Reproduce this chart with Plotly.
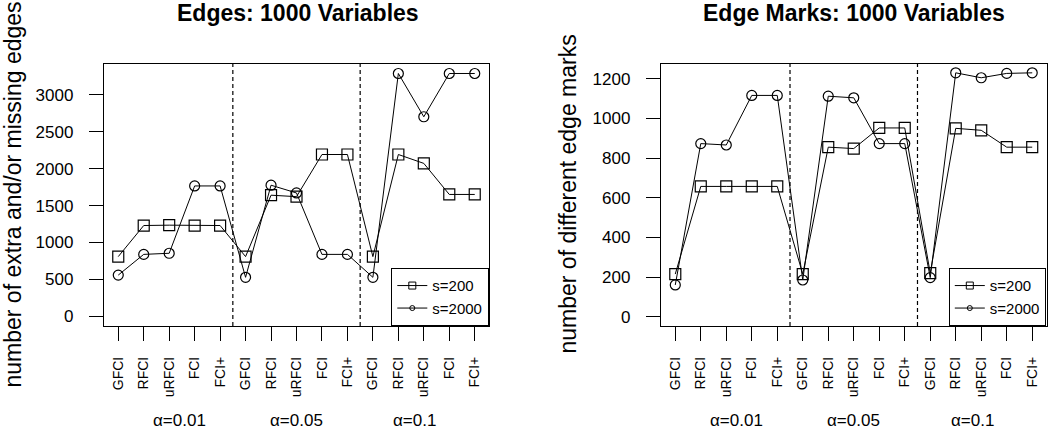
import plotly.graph_objects as go

# methods repeated within each alpha group
methods = ["GFCI", "RFCI", "uRFCI", "FCI", "FCI+"]
alphas = ["α=0.01", "α=0.05", "α=0.1"]

# Edges: 1000 Variables  (number of extra and/or missing edges)
edges_s200 = [810, 1230, 1235, 1230, 1230,
              810, 1640, 1620, 2190, 2190,
              810, 2190, 2070, 1650, 1650]
edges_s2000 = [560, 840, 855, 1765, 1765,
               530, 1775, 1670, 840, 840,
               530, 3285, 2700, 3285, 3285]

# Edge Marks: 1000 Variables  (number of different edge marks)
marks_s200 = [215, 657, 657, 657, 657,
              215, 855, 848, 952, 952,
              220, 950, 940, 855, 855]
marks_s2000 = [160, 873, 866, 1116, 1116,
               185, 1112, 1104, 873, 873,
               197, 1230, 1205, 1227, 1230]

edges_ticks = [0, 500, 1000, 1500, 2000, 2500, 3000]
marks_ticks = [0, 200, 400, 600, 800, 1000, 1200]

ticktext = methods * len(alphas)
x = list(range(1, len(ticktext) + 1))
alpha_pos = [3.4, 8.0, 12.65]

FONT = "Liberation Sans, Arial, sans-serif"
W, H = 1050, 432


def px_x(p):
    return p / W


def px_y(p):
    return 1 - p / H


fig = go.Figure()

for xa, ya, s200, s2000, lg in [("x", "y", edges_s200, edges_s2000, "legend"),
                                ("x2", "y2", marks_s200, marks_s2000, "legend2")]:
    fig.add_trace(go.Scatter(
        x=x, y=s200, xaxis=xa, yaxis=ya, mode="lines+markers",
        line=dict(color="black", width=1),
        marker=dict(symbol="square-open", size=11, color="black", line=dict(width=1.2)),
        showlegend=False))
    fig.add_trace(go.Scatter(
        x=x, y=s2000, xaxis=xa, yaxis=ya, mode="lines+markers",
        line=dict(color="black", width=1),
        marker=dict(symbol="circle-open", size=10, color="black", line=dict(width=1.2)),
        showlegend=False))
    # legend entries with the small symbols used in the key
    fig.add_trace(go.Scatter(
        x=[None], y=[None], xaxis=xa, yaxis=ya, mode="lines+markers", name="s=200",
        line=dict(color="black", width=1),
        marker=dict(symbol="square-open", size=7, color="black", line=dict(width=1)),
        legend=lg))
    fig.add_trace(go.Scatter(
        x=[None], y=[None], xaxis=xa, yaxis=ya, mode="lines+markers", name="s=2000",
        line=dict(color="black", width=1),
        marker=dict(symbol="circle-open", size=5, color="black", line=dict(width=1)),
        legend=lg))

xcommon = dict(
    range=[0.44, len(x) + 0.56], tickmode="array", tickvals=x, ticktext=ticktext,
    tickangle=-90, ticks="outside", ticklen=14, tickcolor="black", tickwidth=1,
    showline=True, mirror=True, linecolor="black", linewidth=1.3,
    showgrid=False, zeroline=False, ticklabelstandoff=10,
    tickfont=dict(size=14, color="black", family=FONT))
ycommon = dict(
    tickmode="array", ticks="outside", ticklen=14, tickcolor="black", tickwidth=1,
    showline=True, mirror=True, linecolor="black", linewidth=1.3,
    showgrid=False, zeroline=False, ticklabelstandoff=12,
    tickfont=dict(size=17, color="black", family=FONT))

ydom = [px_y(326), px_y(63.5)]
layout = dict(
    width=W, height=H, margin=dict(l=0, r=0, t=0, b=0),
    paper_bgcolor="white", plot_bgcolor="white",
    font=dict(family=FONT, color="black"),
    xaxis=dict(domain=[px_x(104), px_x(489)], anchor="y", **xcommon),
    yaxis=dict(domain=ydom, anchor="x", range=[-128, 3420], tickvals=edges_ticks, **ycommon),
    xaxis2=dict(domain=[px_x(661), px_x(1046.5)], anchor="y2", **xcommon),
    yaxis2=dict(domain=ydom, anchor="x2", range=[-47, 1277], tickvals=marks_ticks, **ycommon),
    legend=dict(x=px_x(489), y=px_y(326), xanchor="right", yanchor="bottom",
                bordercolor="black", borderwidth=1.3, bgcolor="white",
                font=dict(size=15, family=FONT), itemwidth=30, tracegroupgap=0),
    legend2=dict(x=px_x(1046.5), y=px_y(326), xanchor="right", yanchor="bottom",
                 bordercolor="black", borderwidth=1.3, bgcolor="white",
                 font=dict(size=15, family=FONT), itemwidth=30, tracegroupgap=0),
)
fig.update_layout(**layout)

# dashed separators between alpha groups
shapes = []
for xr, yr in [("x", "y domain"), ("x2", "y2 domain")]:
    for g in range(1, len(alphas)):
        sep = g * len(methods) + 0.5
        shapes.append(dict(type="line", xref=xr, yref=yr, x0=sep, x1=sep, y0=0, y1=1,
                           line=dict(color="black", width=1.2, dash="4px,3px")))
fig.update_layout(shapes=shapes)

ann = []
# panel titles
ann.append(dict(text="<b>Edges: 1000 Variables</b>", xref="paper", yref="paper",
                x=px_x(298), y=px_y(13), xanchor="center", yanchor="middle",
                showarrow=False, font=dict(size=23, family=FONT)))
ann.append(dict(text="<b>Edge Marks: 1000 Variables</b>", xref="paper", yref="paper",
                x=px_x(854), y=px_y(13), xanchor="center", yanchor="middle",
                showarrow=False, font=dict(size=23, family=FONT)))
# y titles
ann.append(dict(text="number of extra and/or missing edges", xref="paper", yref="paper",
                x=px_x(13), y=px_y(194.5), xanchor="center", yanchor="middle", textangle=-90,
                showarrow=False, font=dict(size=23, family=FONT)))
ann.append(dict(text="number of different edge marks", xref="paper", yref="paper",
                x=px_x(568), y=px_y(194.5), xanchor="center", yanchor="middle", textangle=-90,
                showarrow=False, font=dict(size=23, family=FONT)))
# alpha group labels
for xr in ["x", "x2"]:
    for a, pos in zip(alphas, alpha_pos):
        ann.append(dict(text=a, xref=xr, yref="paper", x=pos, y=px_y(420),
                        xanchor="center", yanchor="middle", showarrow=False,
                        font=dict(size=17, family=FONT)))
fig.update_layout(annotations=ann)

# drop the page's default body margin so the figure sits at the window's corner
fig.write_html("out.html", config={"displayModeBar": False},
               post_script="document.body.style.margin='0';document.body.style.overflow='hidden';")
